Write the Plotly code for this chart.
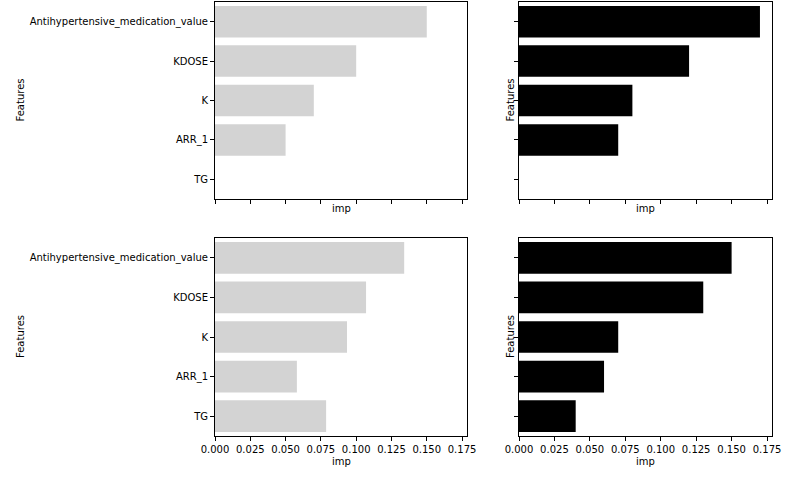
import plotly.graph_objects as go

features = ["Antihypertensive_medication_value", "KDOSE", "K", "ARR_1", "TG"]
imp_top_left = [0.150, 0.100, 0.070, 0.050, 0.0]
imp_top_right = [0.170, 0.120, 0.080, 0.070, 0.0]
imp_bottom_left = [0.134, 0.107, 0.0935, 0.058, 0.0787]
imp_bottom_right = [0.150, 0.130, 0.070, 0.060, 0.040]
x_ticks = [0.0, 0.025, 0.05, 0.075, 0.1, 0.125, 0.15, 0.175]
x_tick_text = ["0.000", "0.025", "0.050", "0.075", "0.100", "0.125", "0.150", "0.175"]

W, H = 795, 478
FONT = "DejaVu Sans"
fig = go.Figure()

panels = [
    (imp_top_left, "#d3d3d3", "x", "y", (215, 467), (2, 199), True, False),
    (imp_top_right, "#000000", "x2", "y2", (519, 772), (2, 199), False, False),
    (imp_bottom_left, "#d3d3d3", "x3", "y3", (215, 467), (238, 436), True, True),
    (imp_bottom_right, "#000000", "x4", "y4", (519, 772), (238, 436), False, True),
]

layout = dict(
    width=W, height=H, margin=dict(l=0, r=0, t=0, b=0, autoexpand=False),
    plot_bgcolor="white", paper_bgcolor="white", showlegend=False,
    font=dict(family=FONT, size=10, color="black"),
    bargap=0.2,
)
annotations = []
for vals, color, xa, ya, (x0, x1), (y0, y1), ylabels, xlabels in panels:
    fig.add_trace(go.Bar(x=vals, y=features, orientation="h", marker=dict(color=color, line=dict(width=0)),
                         xaxis=xa, yaxis=ya, width=0.8))
    xkey = "xaxis" + xa[1:]
    ykey = "yaxis" + ya[1:]
    layout[xkey] = dict(
        domain=[x0 / W, x1 / W], anchor=ya, range=[0, 0.1785], automargin=False,
        tickvals=x_ticks, ticktext=x_tick_text, showticklabels=xlabels,
        ticks="outside", ticklen=4, tickwidth=1, tickcolor="black",
        showline=True, linecolor="black", linewidth=1, mirror=True,
        showgrid=False, zeroline=False, tickfont=dict(size=10, family=FONT),
    )
    layout[ykey] = dict(
        domain=[1 - y1 / H, 1 - y0 / H], anchor=xa, range=[4.5, -0.5], automargin=False,
        categoryorder="array", categoryarray=features, type="category",
        showticklabels=ylabels, ticks="outside", ticklen=4, tickwidth=1, tickcolor="black",
        showline=True, linecolor="black", linewidth=1, mirror=True,
        showgrid=False, zeroline=False, tickfont=dict(size=10, family=FONT),
    )
    annotations.append(dict(text="imp", x=(x0 + x1) / 2 / W, y=1 - (y1 + (9 if not xlabels else 25)) / H,
                            xref="paper", yref="paper", showarrow=False, xanchor="center", yanchor="middle",
                            font=dict(size=10, family=FONT)))
    fx = 20 if ylabels else 510
    annotations.append(dict(text="Features", x=fx / W, y=1 - (y0 + y1) / 2 / H, textangle=-90,
                            xref="paper", yref="paper", showarrow=False, xanchor="center", yanchor="middle",
                            font=dict(size=10, family=FONT)))
layout["annotations"] = annotations
fig.update_layout(**layout)
fig.write_html("out.html")
